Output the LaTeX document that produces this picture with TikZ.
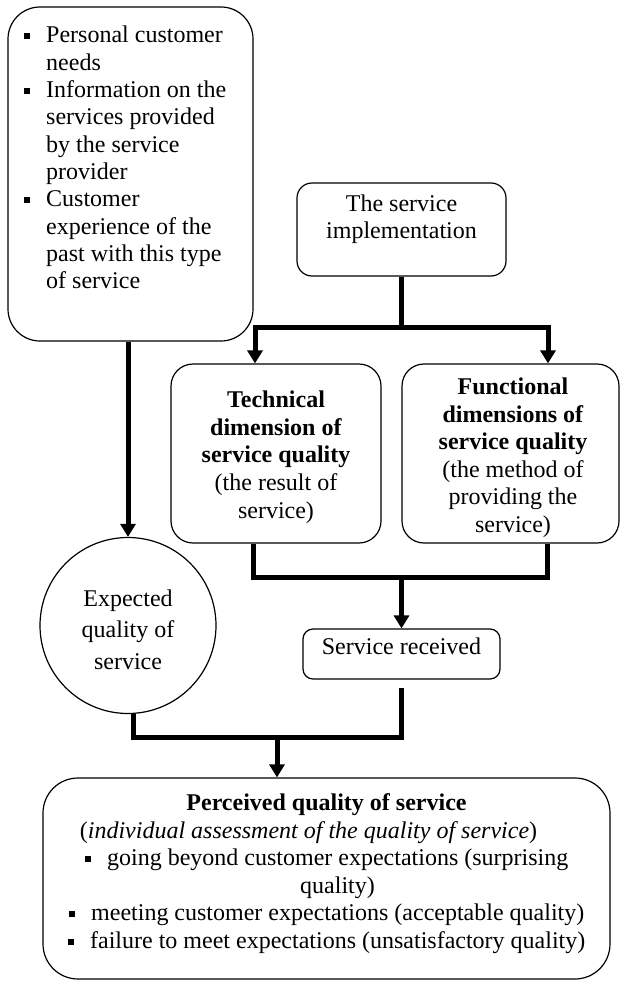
\documentclass[tikz,border=0pt]{standalone}
\usepackage{fontspec}
\setmainfont{Liberation Serif}
\usetikzlibrary{arrows.meta}
\newcommand\sqb{\rule[3.5pt]{6.5pt}{6.5pt}}
\newcommand\cblock[2]{\vtop{\baselineskip=#1\lineskiplimit=-100pt\lineskip=0pt\halign{\hfil##\hfil\cr#2\crcr}}}
\newcommand\lblock[2]{\vtop{\baselineskip=#1\lineskiplimit=-100pt\lineskip=0pt\halign{##\hfil\cr#2\crcr}}}
\tikzset{
  box/.style={draw, line width=1.2pt, inner sep=0pt},
  txt/.style={inner sep=0pt, font=\fontsize{24pt}{27.6pt}\selectfont},
  bar/.style={line width=5pt},
  arr/.style={line width=5pt, -{Triangle[width=15pt,length=13pt]}},
}
\begin{document}
\begin{tikzpicture}[x=1pt,y=-1pt]
\useasboundingbox (0,0) rectangle (622,982);
% boxes
\node[box, rounded corners=32pt, minimum width=245pt, minimum height=334pt] (tl) at (130.5,174) {};
\node[box, rounded corners=15pt, minimum width=209pt, minimum height=93pt] (impl) at (401.5,229.5) {};
\node[box, rounded corners=22pt, minimum width=210pt, minimum height=179pt] (tech) at (276,453.5) {};
\node[box, rounded corners=22pt, minimum width=217pt, minimum height=179pt] (func) at (510.5,453.5) {};
\node[box, rounded corners=10pt, minimum width=197pt, minimum height=50pt] (sr) at (401.5,654) {};
\node[box, circle, minimum size=176pt] (circ) at (128,625.5) {};
\node[box, rounded corners=35pt, minimum width=567pt, minimum height=201pt] (bot) at (326.5,878.5) {};
% texts
\node[txt, anchor=base west] (tlT) at (46,43) {\lblock{27.3pt}{%
\llap{\sqb\hspace{16pt}}Personal customer\cr
needs\cr
\llap{\sqb\hspace{16pt}}Information on the\cr
services provided\cr
by the service\cr
provider\cr
\llap{\sqb\hspace{16pt}}Customer\cr
experience of the\cr
past with this type\cr
of service}};
\node[txt, anchor=base] (implT) at (401.5,211) {\cblock{27.5pt}{The service\cr implementation}};
\node[txt, anchor=base] (techT) at (276,407.5) {\cblock{27.7pt}{%
\textbf{Technical}\cr
\textbf{dimension of}\cr
\textbf{service quality}\cr
(the result of\cr
service)}};
\node[txt, anchor=base] (funcT) at (513,394.5) {\cblock{27.6pt}{%
\textbf{Functional}\cr
\textbf{dimensions of}\cr
\textbf{service quality}\cr
(the method of\cr
providing the\cr
service)}};
\node[txt, anchor=base] (srT) at (401.5,654.5) {Service received};
\node[txt, anchor=base] (circT) at (128,606) {\cblock{31.6pt}{Expected\cr quality of\cr service}};
\node[txt, anchor=base] (botT) at (326.5,810.5) {\cblock{27.6pt}{%
\textbf{Perceived quality of service}\cr
(\textit{individual assessment of the quality of service})\hspace*{36pt}\cr
\sqb\hspace{16pt}going beyond customer expectations (surprising\cr
\hspace*{22pt}quality)\cr
\sqb\hspace{16pt}meeting customer expectations (acceptable quality)\cr
\sqb\hspace{16pt}failure to meet expectations (unsatisfactory quality)}};
% connectors
\draw[arr] (circ.north |- tl.south) -- (circ.north);
\coordinate (split) at (401.5,327);
\draw[bar] (impl.south) -- (split);
\draw[arr] (split) -| ([xshift=-21pt]tech.north);
\draw[arr] (split) -| ([xshift=37.5pt]func.north);
\draw[bar] ([xshift=-23pt]tech.south) -- ++(0,34) -| ([xshift=36.5pt]func.south);
\coordinate (merge) at (401.5,577);
\draw[arr] (merge) -- (sr.north);
\draw[bar] ([xshift=5pt]circ.south) -- ++(0,23) -| ([yshift=-8pt]sr.south);
\coordinate (join) at (277,736);
\draw[arr] (join) -- (bot.north -| join);
\end{tikzpicture}
\end{document}
